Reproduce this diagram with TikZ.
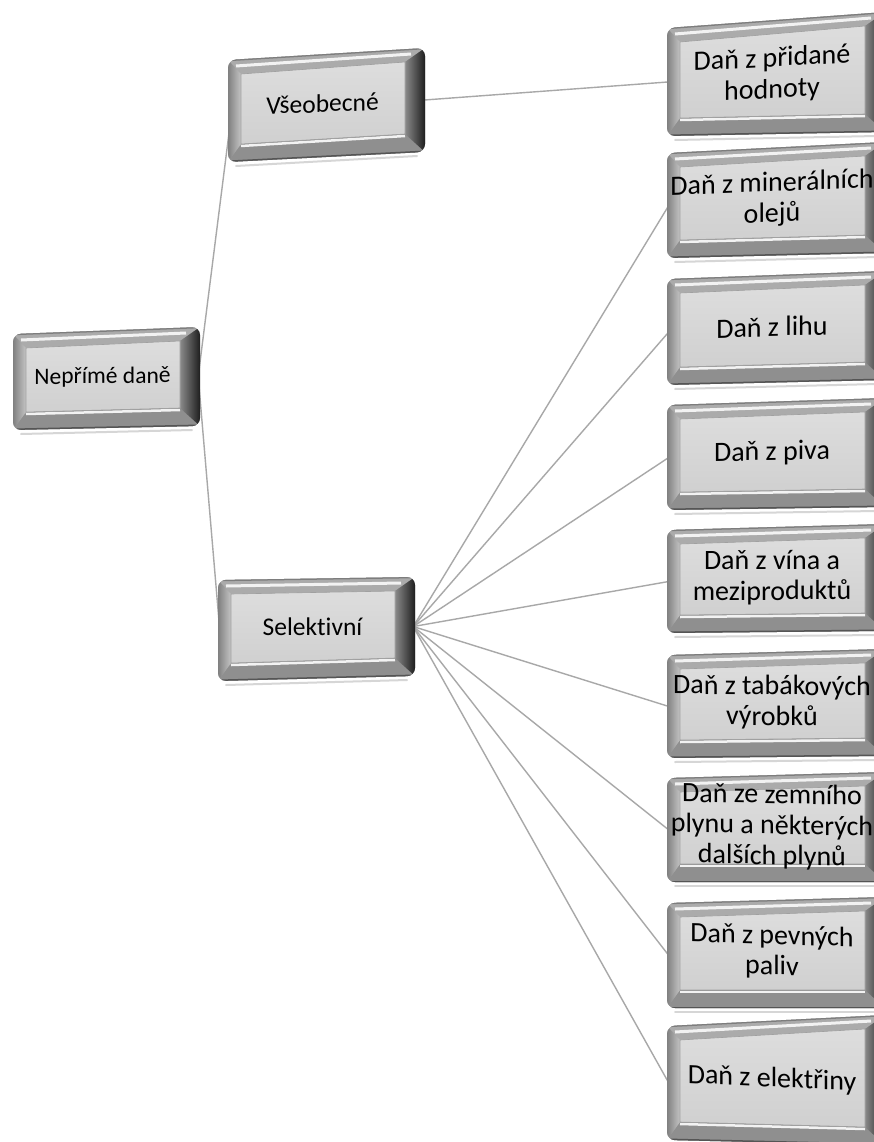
\documentclass[tikz,border=0pt]{standalone}
\usepackage{fontspec}
\setmainfont{Carlito}[Ligatures=NoCommon]
\pgfdeclarelayer{back}
\pgfdeclarelayer{lines}
\pgfsetlayers{back,lines,main}
\definecolor{basegray}{HTML}{9C9C9C}
\definecolor{topgray}{HTML}{ABABAB}
\definecolor{hilite}{HTML}{F2F2F2}
\definecolor{edgegray}{HTML}{7D7D7D}
\definecolor{botgray}{HTML}{8F8F8F}
\definecolor{darkedge}{HTML}{555555}
\definecolor{leftout}{HTML}{808080}
\definecolor{leftin}{HTML}{C4C4C4}
\definecolor{rightin}{HTML}{8A8A8A}
\definecolor{rightout}{HTML}{1E1E1E}
\definecolor{facetop}{HTML}{DDDDDD}
\definecolor{facebot}{HTML}{D0D0D0}
\definecolor{faceedge}{HTML}{A0A0A0}
\definecolor{reflectgray}{HTML}{D6D6D6}
\definecolor{conngray}{HTML}{A8A8A8}
\def\bfs{28}\def\bls{30}
\tikzset{
  conn/.style={draw=conngray, line width=1.4pt},
  boxshape/.style={shape=rectangle, inner sep=0pt, transform shape},
  boxtext/.style={align=center, inner sep=0pt, text=black, transform shape,
    font=\fontsize{\bfs}{\bls}\selectfont},
  reflect/.style={draw=reflectgray, line width=2pt, line cap=round}
}
% #1 name, #2 xl, #3 xr, #4 top-left y, #5 bottom-left y, #6 top-right y, #7 bottom-right y, #8 text slant, #9 text
\newcommand\bevbox[9]{%
  \pgfmathsetmacro\bcx{(#2+#3)/2}%
  \pgfmathsetmacro\bcy{(#4+#5+#6+#7)/4}%
  \pgfmathsetmacro\bsl{((#4-#6)+(#5-#7))/2/(#3-#2)}%
  \pgfmathsetmacro\bw{#3-#2-4}%
  \pgfmathsetmacro\bh{((#5-#4)+(#7-#6))/2-4}%
  \draw[reflect] (#2+8,-#5-4) -- (#3-8,-#7-4);
  \begin{scope}
    \clip[rounded corners=8pt] (#2,-#4) -- (#3,-#6) -- (#3,-#7) -- (#2,-#5) -- cycle;
    \fill[basegray] (#2,-#4) -- (#3,-#6) -- (#3,-#7) -- (#2,-#5) -- cycle;
    \fill[topgray] (#2,-#4) -- (#3,-#6) -- (#3-20,-#6-14) -- (#2+13,-#4-14) -- cycle;
    \draw[hilite, line width=3pt] (#2+8,-#4-6) -- (#3-14,-#6-6);
    \draw[edgegray, line width=2.5pt] (#2,-#4) -- (#3,-#6);
    \fill[botgray] (#2,-#5) -- (#3,-#7) -- (#3-20,-#7+18) -- (#2+13,-#5+18) -- cycle;
    \draw[hilite, line width=2.5pt] (#2+13,-#5+16) -- (#3-20,-#7+16);
    \draw[darkedge, line width=3pt] (#2,-#5) -- (#3,-#7);
    \shade[left color=leftout, right color=leftin] (#2,-#4) -- (#2+13,-#4-14) -- (#2+13,-#5+18) -- (#2,-#5) -- cycle;
    \shade[left color=rightin, right color=rightout] (#3-20,-#6-14) -- (#3,-#6) -- (#3,-#7) -- (#3-20,-#7+18) -- cycle;
    \shade[top color=facetop, bottom color=facebot, draw=faceedge, line width=0.6pt]
      (#2+13,-#4-14) -- (#3-20,-#6-14) -- (#3-20,-#7+18) -- (#2+13,-#5+18) -- cycle;
  \end{scope}
  \begin{scope}[shift={(\bcx,-\bcy)}, yslant=\bsl]
    \node[boxshape, minimum width=\bw pt, minimum height=\bh pt] (#1) at (0,0) {};
  \end{scope}
  \begin{scope}[shift={(\bcx-4,-\bcy+2)}, yslant=#8]
    \node[boxtext] (#1-t) at (0,0) {#9};
  \end{scope}
}
\begin{document}
\begin{tikzpicture}[x=1pt,y=1pt]
\clip (0,0) rectangle (874,-1142);
\begin{pgfonlayer}{back}
  \fill[white] (0,0) rectangle (874,-1142);
\end{pgfonlayer}

\def\bfs{23.5}\def\bls{26}
\bevbox{nep}{13}{200}{334}{430}{327}{426}{0.01}{Nepřímé daně}
\def\bfs{25.5}\def\bls{28}
\bevbox{vse}{228}{425}{60}{162}{48}{152}{0.04}{Všeobecné}
\bevbox{sel}{218}{415}{580}{681}{577}{676}{0.0}{Selektivní}

\def\bfs{28}\def\bls{31.5}
\bevbox{r1}{667}{885}{28}{136}{12}{132}{0.05}{Daň z přidané\\hodnoty}
\def\bfs{28}\def\bls{30.5}
\bevbox{r2}{667}{885}{153}{258}{142}{253}{0.04}{Daň z minerálních\\olejů}
\bevbox{r3}{667}{885}{279}{385}{271}{380}{0.03}{Daň z lihu}
\bevbox{r4}{667}{885}{405}{510}{398}{507}{0.02}{Daň z piva}
\bevbox{r5}{667}{885}{530}{633}{524}{631}{0.005}{Daň z vína a\\meziproduktů}
\bevbox{r6}{667}{885}{655}{758}{649}{756}{-0.01}{Daň z tabákových\\výrobků}
\bevbox{r7}{667}{885}{778}{882}{772}{882}{-0.02}{Daň ze zemního\\plynu a některých\\dalších plynů}
\bevbox{r8}{667}{885}{903}{1008}{897}{1008}{-0.03}{Daň z pevných\\paliv}
\bevbox{r9}{667}{885}{1026}{1140}{1015}{1145}{-0.045}{Daň z elektřiny}

\begin{pgfonlayer}{lines}
  \draw[conn] (nep.east) -- ([xshift=2pt]vse.west);
  \draw[conn] (nep.east) -- (sel.west);
  \draw[conn] (vse.east) -- (r1.west);
  \foreach \i in {2,...,9} \draw[conn] (sel.east) -- (r\i.west);
\end{pgfonlayer}
\end{tikzpicture}
\end{document}
